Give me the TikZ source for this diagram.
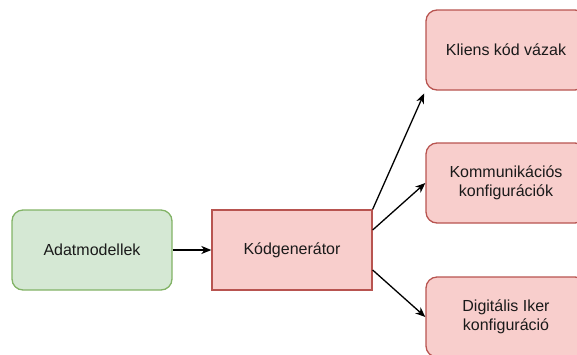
\documentclass[tikz,border=0pt]{standalone}
\usepackage{fontspec}
\setmainfont{Liberation Sans}
\usetikzlibrary{arrows.meta}
\definecolor{greenfill}{HTML}{D5E8D4}
\definecolor{greenline}{HTML}{82B366}
\definecolor{redfill}{HTML}{F8CECC}
\definecolor{redline}{HTML}{B85450}
\definecolor{ink}{HTML}{1A1A1A}
\tikzset{
  box/.style={minimum width=160pt, minimum height=80pt, inner sep=0pt,
    align=center, text=ink, line width=1.3pt,
    font=\fontsize{16}{19}\selectfont},
  greenbox/.style={box, draw=greenline, fill=greenfill, rounded corners=11pt},
  redbox/.style={box, draw=redline, fill=redfill, rounded corners=11pt},
  plainbox/.style={box, draw=redline, fill=redfill},
  link/.style={draw=black, line width=1.3pt,
    -{Stealth[length=10pt, width=8pt, inset=3pt]}},
}
\begin{document}
\begin{tikzpicture}[x=1pt, y=-1pt]
  \useasboundingbox (0,0) rectangle (577,354);
  \node[greenbox] (models) at (92,250) {Adatmodellek};
  \node[plainbox] (gen) at (292,250) {Kódgenerátor};
  \node[redbox] (client) at (506,50) {Kliens kód vázak};
  \node[redbox] (comm) at (506,183) {Kommunikációs\\konfigurációk};
  \node[redbox] (twin) at (506,317) {Digitális Iker\\konfiguráció};
  % upper and lower exit points on the generator's right side
  \coordinate (g2) at ([yshift=20pt]gen.east);
  \coordinate (g3) at ([yshift=-20pt]gen.east);
  \draw[link] (models) -- (gen);
  \draw[link, shorten >=3pt] (gen.north east) -- (client.south west);
  \draw[link] (g2) -- (comm.west);
  \draw[link] (g3) -- (twin.west);
\end{tikzpicture}
\end{document}
